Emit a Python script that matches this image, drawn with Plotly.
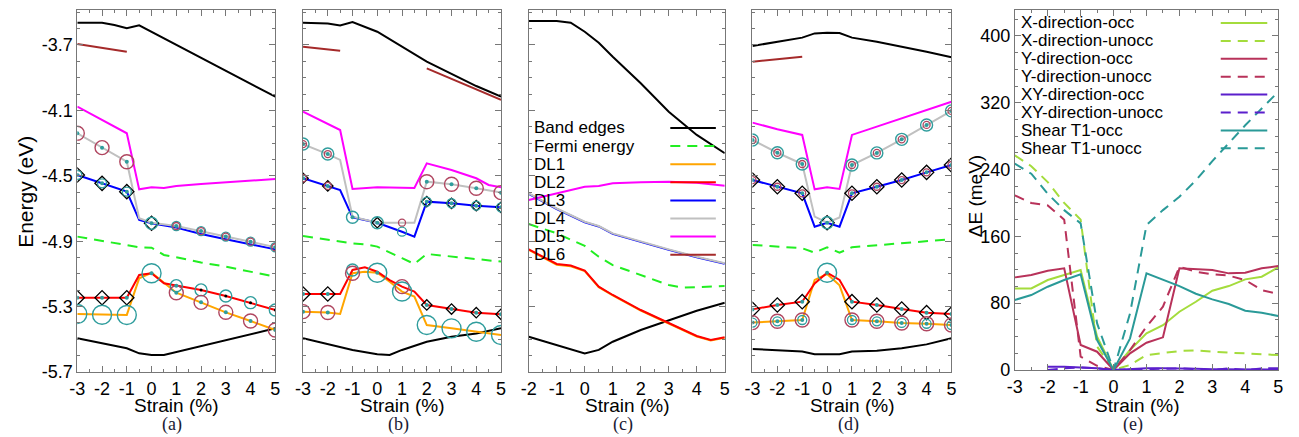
import plotly.graph_objects as go

W, H = 1299, 437
FIG_H = 447  # compensates for the vertical squeeze seen in the rendered page

# ---------------- panel (a) ----------------
a_top_x = [-3, -2, -1.5, -1, -0.5, 0, 1, 2, 3, 4, 5]
a_top = [-3.564, -3.564, -3.578, -3.598, -3.580, -3.620, -3.700, -3.780, -3.860, -3.940, -4.016]
a_bot_x = [-3, -1, -0.5, 0, 0.5, 1, 2, 3, 4, 5]
a_bot = [-5.494, -5.555, -5.586, -5.596, -5.596, -5.578, -5.542, -5.506, -5.470, -5.433]
a_fermi_x = [-3, -1, -0.5, 0, 0.5, 1, 2, 3, 4, 5]
a_fermi = [-4.872, -4.923, -4.937, -4.940, -4.984, -4.998, -5.030, -5.056, -5.087, -5.117]
a_dl1_x = [-3, -2, -1, -0.5, 0, 1, 2, 3, 4, 5]
a_dl1 = [-5.345, -5.350, -5.351, -5.127, -5.093, -5.215, -5.274, -5.335, -5.388, -5.443]
a_dl2_x = [-3, -2, -1, -0.5, 0, 0.5, 1, 2, 3, 4, 5]
a_dl2 = [-5.246, -5.246, -5.246, -5.107, -5.096, -5.157, -5.172, -5.198, -5.235, -5.276, -5.321]
a_dl34_x = [-3, -2, -1, -0.5, 0, 1, 2, 3, 4, 5]
a_dl3 = [-4.495, -4.546, -4.597, -4.770, -4.790, -4.817, -4.856, -4.888, -4.917, -4.950]
a_dl4 = [-4.240, -4.328, -4.414, -4.760, -4.787, -4.807, -4.838, -4.872, -4.903, -4.937]
a_dl5_x = [-3, -2, -1, -0.5, 0, 0.5, 1, 2, 3, 4, 5]
a_dl5 = [-4.077, -4.159, -4.240, -4.583, -4.570, -4.575, -4.562, -4.550, -4.540, -4.530, -4.520]
a_dl6_x = [-3, -2, -1]
a_dl6 = [-3.694, -3.716, -3.741]

# ---------------- panel (b) ----------------
b_top_x = [-3, -2, -1.5, -1, 0, 1, 2, 3, 4, 5]
b_top = [-3.564, -3.568, -3.580, -3.560, -3.619, -3.710, -3.802, -3.877, -3.951, -4.016]
b_bot_x = [-3, -1, 0, 0.5, 1, 2, 3, 4, 5]
b_bot = [-5.494, -5.565, -5.592, -5.596, -5.565, -5.515, -5.484, -5.464, -5.433]
b_fermi_x = [-3, -1, -0.5, 0, 1, 1.5, 2, 5]
b_fermi = [-4.868, -4.913, -4.919, -4.933, -5.004, -5.039, -4.978, -5.025]
b_dl12_x = [-3, -2, -1.5, -1, -0.5, 0, 0.5, 1, 1.5, 2, 3, 4, 5]
b_dl1 = [-5.331, -5.336, -5.345, -5.096, -5.087, -5.093, -5.148, -5.208, -5.239, -5.413, -5.433, -5.454, -5.474]
b_dl2 = [-5.223, -5.223, -5.223, -5.076, -5.060, -5.087, -5.138, -5.178, -5.208, -5.290, -5.315, -5.337, -5.347]
b_dl34_x = [-3, -2, -1.5, -1, 0, 1, 1.5, 2, 3, 4, 5]
b_dl3 = [-4.515, -4.562, -4.587, -4.754, -4.787, -4.842, -4.872, -4.658, -4.668, -4.683, -4.693]
b_dl4 = [-4.306, -4.367, -4.403, -4.750, -4.787, -4.787, -4.787, -4.536, -4.552, -4.576, -4.603]
b_dl5_x = [-3, -1.5, -1, 0, 1.5, 2, 3, 4, 4.5, 5]
b_dl5 = [-4.108, -4.220, -4.581, -4.570, -4.575, -4.424, -4.465, -4.515, -4.556, -4.570]
b_dl6_x = [-3, -1.5, None, 2, 5]
b_dl6 = [-3.710, -3.735, None, -3.843, -4.036]

# ---------------- panel (c) ----------------
c_top_x = [-2, -1, -0.5, 0, 0.5, 1, 2, 3, 4, 5]
c_top = [-3.553, -3.553, -3.564, -3.619, -3.686, -3.772, -3.934, -4.108, -4.250, -4.362]
c_bot_x = [-2, -1, 0, 0.5, 1, 2, 3, 4, 5]
c_bot = [-5.484, -5.535, -5.586, -5.565, -5.515, -5.443, -5.382, -5.325, -5.276]
c_fermi_x = [-2, -1, 0, 0.5, 1, 2, 3, 3.5, 4, 5]
c_fermi = [-4.795, -4.852, -4.929, -4.995, -5.046, -5.107, -5.168, -5.184, -5.182, -5.174]
c_dl12_x = [-2, -1, -0.5, 0, 0.5, 1, 2, 3, 4, 4.5, 5]
c_dl1 = [-4.953, -5.044, -5.053, -5.083, -5.181, -5.232, -5.324, -5.405, -5.483, -5.507, -5.491]
c_dl2 = [-4.950, -5.039, -5.049, -5.080, -5.178, -5.229, -5.321, -5.402, -5.480, -5.504, -5.488]
c_dl34_x = [-2, -1, 0, 0.5, 1, 2, 3, 4, 5]
c_dl3 = [-4.610, -4.703, -4.784, -4.810, -4.855, -4.906, -4.953, -4.998, -5.038]
c_dl4 = [-4.607, -4.700, -4.781, -4.807, -4.852, -4.903, -4.950, -4.995, -5.035]
c_dl5_x = [-2, -1, 0, 0.5, 1, 2, 3, 4, 5]
c_dl5 = [-4.648, -4.607, -4.567, -4.563, -4.546, -4.540, -4.536, -4.542, -4.561]

# ---------------- panel (d) ----------------
d_x = [-3, -2, -1, -0.5, 0, 0.5, 1, 2, 3, 4, 5]
d_top = [-3.706, -3.680, -3.655, -3.629, -3.625, -3.627, -3.655, -3.680, -3.710, -3.741, -3.775]
d_bot = [-5.559, -5.565, -5.575, -5.592, -5.592, -5.592, -5.575, -5.570, -5.555, -5.531, -5.494]
d_fermi_x = [-3, -1, -0.5, 0, 0.5, 1, 5]
d_fermi = [-4.923, -4.943, -4.970, -4.937, -4.970, -4.937, -4.888]
d_dl1 = [-5.398, -5.390, -5.382, -5.137, -5.101, -5.170, -5.382, -5.390, -5.400, -5.405, -5.413]
d_dl2 = [-5.317, -5.290, -5.270, -5.158, -5.093, -5.137, -5.270, -5.290, -5.315, -5.337, -5.345]
d_dl3 = [-4.526, -4.567, -4.607, -4.811, -4.787, -4.811, -4.607, -4.567, -4.526, -4.479, -4.434]
d_dl4 = [-4.281, -4.359, -4.428, -4.750, -4.787, -4.755, -4.434, -4.360, -4.277, -4.189, -4.103]
d_dl5 = [-4.175, -4.215, -4.250, -4.583, -4.570, -4.580, -4.250, -4.200, -4.150, -4.100, -4.047]
d_dl6_x = [-3, -2, -1]
d_dl6 = [-3.802, -3.787, -3.772]

# ---------------- panel (e) ----------------
e_x = [-3, -2.5, -2, -1.5, -1, -0.5, 0, 0.5, 1, 1.5, 2, 2.5, 3, 3.5, 4, 4.5, 5]
x_occ = [97.7, 97.7, 107.7, 113.7, 119.7, 39.9, 0, 23.9, 43.9, 53.6, 69.8, 81.7, 94.9, 100.5, 108.5, 111.7, 122.9]
x_unocc = [257, 244, 225, 200, 180, 28, 0, 6, 17.9, 20.7, 22.7, 23.5, 21.9, 20.7, 19.9, 18.7, 17.9]
y_occ = [110.9, 113.7, 118.8, 121.7, 29.9, 21.9, 0, 19.9, 32.7, 39.1, 121.7, 120.5, 119.7, 115.7, 116.5, 121.7, 124.4]
y_unocc = [209, 200, 197, 180, 16, 5, 0, 23.9, 51.9, 75.8, 123.6, 117.7, 114.5, 113, 107.7, 95.7, 90.9]
xy_x = [-2, -1.5, -1, -0.5, 0, 0.5, 1, 1.5, 2, 2.5, 3, 3.5, 4, 4.5, 5]
xy_occ = [4, 4, 3, 2, 0, 1, 2, 2, 2, 1.5, 1, 1, 0.5, 0.5, 0.5]
xy_unocc = [0, 2, 3, 2, 0, 1, 1, 1.5, 2, 1, 0, 2, 0, 2, 2]
t1_occ = [83.8, 89.7, 99.7, 107.7, 114.5, 35.9, 0, 37.9, 115.7, 107.7, 100.5, 91.3, 84.6, 79, 71, 68.6, 64.6]
t1_unocc = [247, 235, 211, 191.4, 175.5, 55.8, 0, 67.8, 173.5, 191.4, 207.4, 227, 250, 272, 293, 313, 333]

# ---------------- tick labels / legend text ----------------
strain_ticks = [-3, -2, -1, 0, 1, 2, 3, 4, 5]
strain_ticks_c = [-2, -1, 0, 1, 2, 3, 4, 5]
energy_ticks = [-3.7, -4.1, -4.5, -4.9, -5.3, -5.7]
de_ticks = [0, 80, 160, 240, 320, 400]
legend_c = ["Band edges", "Fermi energy", "DL1", "DL2", "DL3", "DL4", "DL5", "DL6"]
legend_e = ["X-direction-occ", "X-direction-unocc", "Y-direction-occ", "Y-direction-unocc",
            "XY-direction-occ", "XY-direction-unocc", "Shear T1-occ", "Shear T1-unocc"]
panel_letters = ["(a)", "(b)", "(c)", "(d)", "(e)"]

# marker specs: (series, kind, strains)
a_marks = [
    ('dl4', 'rc', [-3, -2, -1]), ('dl4', 'tcs', [1, 2, 3, 4, 5]), ('dl4', 'rcs', [1, 2, 3, 4, 5]),
    ('dl3', 'bd', [-3, -2, -1, 0]), ('dl3', 'tcs', [-3, -2, -1]), ('dl3', 'tc', [0]),
    ('dl2', 'bd', [-3, -2, -1]), ('dl2', 'tcl', [0]), ('dl2', 'tc', [1, 2, 3, 4, 5]), ('dl2', 'bk', [2, 3, 4, 5]),
    ('dl1', 'tcl', [-3, -2, -1]), ('dl1', 'rc', [1, 2, 3, 4, 5]),
    ('dl4', 'td', [-3, -2, -1, 1, 2, 3, 4, 5]), ('dl3', 'td', [-3, -2, -1, 0]),
    ('dl2', 'td', [-3, -2, -1, 0, 1]), ('dl1', 'td', [1, 2, 3, 4, 5]),
]
b_marks = [
    ('dl4', 'tc', [-3, -2]), ('dl4', 'rcs', [-3, -2, 1]), ('dl4', 'rc', [2, 3, 4, 5]),
    ('dl3', 'bds', [-3, -2, 0, 2, 3, 4, 5]), ('dl3', 'rcs', [-3, -2]), ('dl3', 'tc', [-1, 0]),
    ('dl3', 'tcs', [1, 2, 3, 4, 5]),
    ('dl2', 'bd', [-3, -2]), ('dl2', 'bds', [2, 3, 4, 5]), ('dl2', 'rc', [1]), ('dl2', 'tc', [-1]),
    ('dl1', 'rc', [-3, -2, -1]), ('dl1', 'tcl', [0, 1, 2, 3, 4, 5]),
    ('dl4', 'td', [-3, -2, 2, 3, 4, 5]), ('dl3', 'td', [-3, -2, -1, 0, 2, 3, 4, 5]),
    ('dl2', 'td', [-3, -2, 2, 3, 4, 5]), ('dl1', 'td', [-3, -2, 0]),
]
d_all = [-3, -2, -1, 1, 2, 3, 4, 5]
d_marks = [
    ('dl4', 'tc', d_all), ('dl4', 'rcs', d_all),
    ('dl3', 'bd', [-3, -2, -1, 0, 1, 2, 3, 4, 5]), ('dl3', 'rcs', d_all), ('dl3', 'tc', [0]),
    ('dl2', 'bd', d_all), ('dl2', 'tcl', [0]),
    ('dl1', 'rc', d_all), ('dl1', 'tcs', d_all),
    ('dl4', 'td', d_all), ('dl3', 'td', [-3, -2, -1, 0, 1, 2, 3, 4, 5]),
    ('dl2', 'td', [-3, -2, -1, 0, 1, 2, 3, 4, 5]), ('dl1', 'td', d_all),
]

panels = [
    dict(top=(a_top_x, a_top), bot=(a_bot_x, a_bot), fermi=(a_fermi_x, a_fermi),
         dl1=(a_dl1_x, a_dl1), dl2=(a_dl2_x, a_dl2), dl3=(a_dl34_x, a_dl3), dl4=(a_dl34_x, a_dl4),
         dl5=(a_dl5_x, a_dl5), dl6=(a_dl6_x, a_dl6), marks=a_marks),
    dict(top=(b_top_x, b_top), bot=(b_bot_x, b_bot), fermi=(b_fermi_x, b_fermi),
         dl1=(b_dl12_x, b_dl1), dl2=(b_dl12_x, b_dl2), dl3=(b_dl34_x, b_dl3), dl4=(b_dl34_x, b_dl4),
         dl5=(b_dl5_x, b_dl5), dl6=(b_dl6_x, b_dl6), marks=b_marks),
    dict(top=(c_top_x, c_top), bot=(c_bot_x, c_bot), fermi=(c_fermi_x, c_fermi),
         dl1=(c_dl12_x, c_dl1), dl2=(c_dl12_x, c_dl2), dl3=(c_dl34_x, c_dl3), dl4=(c_dl34_x, c_dl4),
         dl5=(c_dl5_x, c_dl5), marks=[]),
    dict(top=(d_x, d_top), bot=(d_x, d_bot), fermi=(d_fermi_x, d_fermi),
         dl1=(d_x, d_dl1), dl2=(d_x, d_dl2), dl3=(d_x, d_dl3), dl4=(d_x, d_dl4),
         dl5=(d_x, d_dl5), dl6=(d_dl6_x, d_dl6), marks=d_marks),
]

TEAL = "#2f9d9d"
DKRED = "#b04660"
FERMI_DASH = "10px,7px"
line_style = {
    'top': dict(color='black', width=2),
    'bot': dict(color='black', width=2),
    'fermi': dict(color='#22ee22', width=2, dash=FERMI_DASH),
    'dl1': dict(color='#ffa500', width=2),
    'dl2': dict(color='#ff0000', width=2),
    'dl3': dict(color='#0000ff', width=2),
    'dl4': dict(color='#c0c0c0', width=2),
    'dl5': dict(color='#ff00ff', width=2),
    'dl6': dict(color='#a52a2a', width=2),
}
mk_style = {
    'rc': dict(symbol='circle-open', size=14, color=DKRED, line=dict(width=1.4, color=DKRED)),
    'rcs': dict(symbol='circle-open', size=7, color=DKRED, line=dict(width=1.3, color=DKRED)),
    'tc': dict(symbol='circle-open', size=12, color=TEAL, line=dict(width=1.4, color=TEAL)),
    'tcs': dict(symbol='circle-open', size=9, color=TEAL, line=dict(width=1.3, color=TEAL)),
    'tcl': dict(symbol='circle-open', size=19, color=TEAL, line=dict(width=1.4, color=TEAL)),
    'bd': dict(symbol='diamond-open', size=11, color='black', line=dict(width=1.3, color='black')),
    'bds': dict(symbol='diamond-open', size=8, color='black', line=dict(width=1.3, color='black')),
    'td': dict(symbol='circle', size=4, color=TEAL, line=dict(width=0)),
    'bk': dict(symbol='circle', size=3, color='black', line=dict(width=0)),
}

boxes = [(70, 270), (298, 498), (526, 724), (752, 953), (1017, 1283)]
Y_TOP, Y_BOT = 10, 372

fig = go.Figure()
order = ['top', 'bot', 'fermi', 'dl1', 'dl2', 'dl3', 'dl4', 'dl5', 'dl6']
for i, p in enumerate(panels):
    n = '' if i == 0 else str(i + 1)
    for key in order:
        if key not in p:
            continue
        xs, ys = p[key]
        fig.add_trace(go.Scatter(x=xs, y=ys, mode='lines', line=line_style[key],
                                 xaxis='x' + n, yaxis='y' + n, connectgaps=False, hoverinfo='skip'))
    for key, kind, strains in p['marks']:
        xs, ys = p[key]
        my = [ys[xs.index(s)] for s in strains]
        fig.add_trace(go.Scatter(x=strains, y=my, mode='markers', marker=mk_style[kind],
                                 xaxis='x' + n, yaxis='y' + n, hoverinfo='skip'))

# panel (e)
X_COL, Y_COL, XY_COL, T_COL = "#a4dc3c", "#b8325a", "#5b1fcc", "#2a9a98"
e_series = [
    (e_x, x_occ, X_COL, 'solid'), (e_x, x_unocc, X_COL, FERMI_DASH),
    (e_x, y_occ, Y_COL, 'solid'), (e_x, y_unocc, Y_COL, FERMI_DASH),
    (xy_x, xy_occ, XY_COL, 'solid'), (xy_x, xy_unocc, XY_COL, FERMI_DASH),
    (e_x, t1_occ, T_COL, 'solid'), (e_x, t1_unocc, T_COL, FERMI_DASH),
]
for xs, ys, col, dash in e_series:
    fig.add_trace(go.Scatter(x=xs, y=ys, mode='lines', line=dict(color=col, width=2, dash=dash),
                             xaxis='x5', yaxis='y5', hoverinfo='skip'))

FONT = "Liberation Sans, Arial, sans-serif"
FRAME = "#777777"
axis_common = dict(showline=True, linecolor=FRAME, linewidth=1, mirror='allticks',
                   ticks='inside', ticklen=6, tickcolor=FRAME, tickwidth=1,
                   tickfont=dict(size=18, color='black', family=FONT),
                   zeroline=False, showgrid=False, fixedrange=True)
layout = {}
for i, (x0, x1) in enumerate(boxes):
    n = '' if i == 0 else str(i + 1)
    xt = strain_ticks_c if i == 2 else strain_ticks
    xa = dict(axis_common, domain=[x0 / W, x1 / W], anchor='y' + n,
              range=[xt[0], xt[-1]], tickmode='array', tickvals=xt,
              ticktext=[str(t) for t in xt],
              minor=dict(ticks='inside', ticklen=3, tickcolor=FRAME, tickmode='linear',
                         tick0=xt[0], dtick=0.5))
    if i < 4:
        ya = dict(axis_common, domain=[1 - Y_BOT / H, 1 - Y_TOP / H], anchor='x' + n,
                  range=[-5.7, -3.486], tickmode='array', tickvals=energy_ticks,
                  ticktext=[f"{t:.1f}" for t in energy_ticks], showticklabels=(i == 0),
                  minor=dict(ticks='inside', ticklen=3, tickcolor=FRAME, tickmode='linear',
                             tick0=-5.7, dtick=0.1))
    else:
        ya = dict(axis_common, domain=[1 - 370 / H, 1 - Y_TOP / H], anchor='x' + n,
                  range=[0, 431], tickmode='array', tickvals=de_ticks,
                  ticktext=[str(t) for t in de_ticks],
                  minor=dict(ticks='inside', ticklen=3, tickcolor=FRAME, tickmode='linear',
                             tick0=0, dtick=20))
    layout['xaxis' + n] = xa
    layout['yaxis' + n] = ya

annotations = []
shapes = []
centers = [170, 398, 625, 853, 1140]
for i, cx in enumerate(centers):
    annotations.append(dict(x=cx / W, y=1 - 405 / H, xref='paper', yref='paper', text="Strain (%)",
                            showarrow=False, font=dict(size=19, family=FONT, color='black'),
                            xanchor='center', yanchor='middle'))
    annotations.append(dict(x=(cx - 4) / W, y=1 - 424 / H, xref='paper', yref='paper',
                            text=panel_letters[i], showarrow=False,
                            font=dict(size=18, family="Liberation Serif, Times New Roman, serif",
                                      color='#1a1a33'),
                            xanchor='center', yanchor='middle'))
annotations.append(dict(x=18 / W, y=1 - 192 / H, xref='paper', yref='paper', text="Energy (eV)",
                        textangle=-90, showarrow=False, font=dict(size=21, family=FONT, color='black'),
                        xanchor='center', yanchor='middle'))
annotations.append(dict(x=977 / W, y=1 - 196 / H, xref='paper', yref='paper', text="ΔE (meV)",
                        textangle=-90, showarrow=False, font=dict(size=19, family=FONT, color='black'),
                        xanchor='center', yanchor='middle'))

# legend of panel (c)
leg_c_styles = ['top', 'fermi', 'dl1', 'dl2', 'dl3', 'dl4', 'dl5', 'dl6']
for k, (txt, st) in enumerate(zip(legend_c, leg_c_styles)):
    yy = 1 - (128 + k * 18.1) / H
    annotations.append(dict(x=529 / W, y=yy, xref='paper', yref='paper', text=txt, showarrow=False,
                            font=dict(size=17, family=FONT, color='black'),
                            xanchor='left', yanchor='middle'))
    ls = line_style[st]
    shapes.append(dict(type='line', xref='paper', yref='paper', x0=669 / W, x1=715 / W, y0=yy, y1=yy,
                       line=dict(color=ls['color'], width=2, dash=ls.get('dash', 'solid'))))

# legend of panel (e)
for k, (txt, (_, _, col, dash)) in enumerate(zip(legend_e, e_series)):
    yy = 1 - (23 + k * 17.9) / H
    annotations.append(dict(x=1021 / W, y=yy, xref='paper', yref='paper', text=txt, showarrow=False,
                            font=dict(size=17, family=FONT, color='black'),
                            xanchor='left', yanchor='middle'))
    shapes.append(dict(type='line', xref='paper', yref='paper', x0=1225 / W, x1=1272 / W, y0=yy, y1=yy,
                       line=dict(color=col, width=2, dash=dash)))

fig.update_layout(width=W, height=FIG_H, margin=dict(l=0, r=0, t=0, b=0), showlegend=False,
                  plot_bgcolor='white', paper_bgcolor='white', annotations=annotations,
                  shapes=shapes, **layout)
page_fix = ("document.documentElement.style.margin='0px';document.body.style.margin='0px';"
            "document.documentElement.style.overflow='hidden';document.body.style.overflow='hidden';")
fig.write_html("out.html", post_script=page_fix, config={'displayModeBar': False})
